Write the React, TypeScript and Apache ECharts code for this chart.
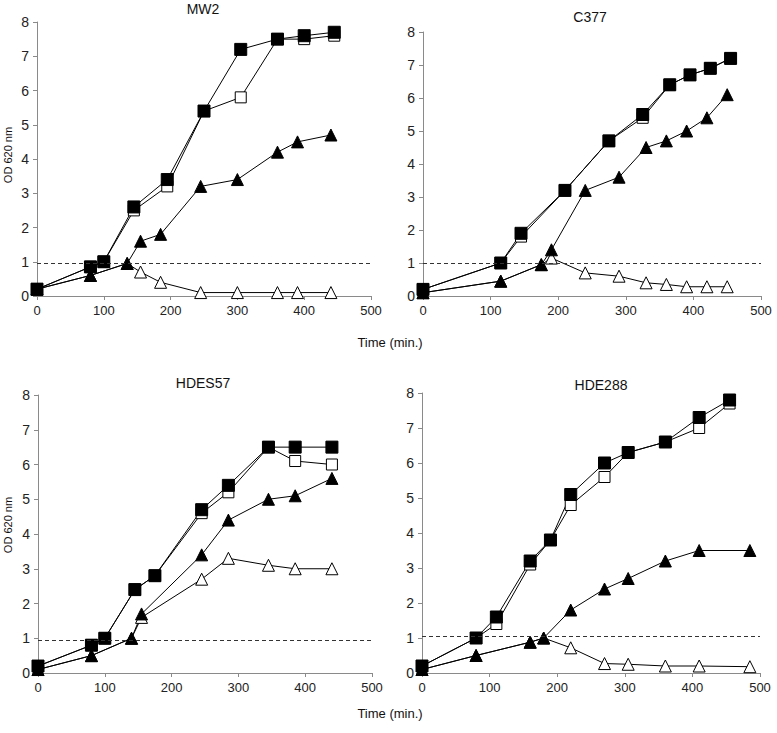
import React, { useEffect, useRef } from "react";
import * as echarts from "echarts";

// ---- Data (time in min, OD 620 nm) ----
const xTicks = [0, 100, 200, 300, 400, 500];
const yTicks = [0, 1, 2, 3, 4, 5, 6, 7, 8];

const panelTitles = ["MW2", "C377", "HDES57", "HDE288"];
const thresholds = [0.95, 1.0, 0.95, 1.05];

// MW2
const mw2SqT = [0, 80, 100, 145, 195, 250, 305, 360, 400, 445];
const mw2FilledSq = [0.2, 0.85, 1.0, 2.6, 3.4, 5.4, 7.2, 7.5, 7.6, 7.7];
const mw2OpenSq = [0.2, 0.85, 1.0, 2.5, 3.2, 5.4, 5.8, 7.5, 7.5, 7.6];
const mw2TriT = [0, 80, 135, 155, 185, 245, 300, 360, 390, 440];
const mw2FilledTri = [0.2, 0.6, 0.95, 1.6, 1.8, 3.2, 3.4, 4.2, 4.5, 4.7];
const mw2OpenTri = [0.2, 0.6, 0.95, 0.7, 0.4, 0.1, 0.1, 0.1, 0.1, 0.1];

// C377
const c377SqT = [0, 115, 145, 210, 275, 325, 365, 395, 425, 455];
const c377FilledSq = [0.2, 1.0, 1.9, 3.2, 4.7, 5.5, 6.4, 6.7, 6.9, 7.2];
const c377OpenSq = [0.2, 1.0, 1.8, 3.2, 4.7, 5.4, 6.4, 6.7, 6.9, 7.2];
const c377TriT = [0, 115, 175, 190, 240, 290, 330, 360, 390, 420, 450];
const c377FilledTri = [0.1, 0.45, 0.95, 1.4, 3.2, 3.6, 4.5, 4.7, 5.0, 5.4, 6.1];
const c377OpenTri = [0.1, 0.45, 0.95, 1.15, 0.7, 0.6, 0.4, 0.35, 0.28, 0.28, 0.28];

// HDES57
const hdes57SqT = [0, 80, 100, 145, 175, 245, 285, 345, 385, 440];
const hdes57FilledSq = [0.2, 0.8, 1.0, 2.4, 2.8, 4.7, 5.4, 6.5, 6.5, 6.5];
const hdes57OpenSq = [0.2, 0.8, 1.0, 2.4, 2.8, 4.6, 5.2, 6.5, 6.1, 6.0];
const hdes57TriT = [0, 80, 140, 155, 245, 285, 345, 385, 440];
const hdes57FilledTri = [0.1, 0.5, 1.0, 1.7, 3.4, 4.4, 5.0, 5.1, 5.6];
const hdes57OpenTri = [0.1, 0.5, 1.0, 1.6, 2.7, 3.3, 3.1, 3.0, 3.0];

// HDE288
const hde288SqT = [0, 80, 110, 160, 190, 220, 270, 305, 360, 410, 455];
const hde288FilledSq = [0.2, 1.0, 1.6, 3.2, 3.8, 5.1, 6.0, 6.3, 6.6, 7.3, 7.8];
const hde288OpenSq = [0.2, 1.0, 1.4, 3.1, 3.8, 4.8, 5.6, 6.3, 6.6, 7.0, 7.7];
const hde288TriT = [0, 80, 160, 180, 220, 270, 305, 360, 410, 485];
const hde288FilledTri = [0.1, 0.5, 0.88, 1.0, 1.8, 2.4, 2.7, 3.2, 3.5, 3.5];
const hde288OpenTri = [0.1, 0.5, 0.88, 1.0, 0.72, 0.27, 0.25, 0.2, 0.2, 0.18];

const panels = [
  { sqT: mw2SqT, fSq: mw2FilledSq, oSq: mw2OpenSq, triT: mw2TriT, fTri: mw2FilledTri, oTri: mw2OpenTri },
  { sqT: c377SqT, fSq: c377FilledSq, oSq: c377OpenSq, triT: c377TriT, fTri: c377FilledTri, oTri: c377OpenTri },
  { sqT: hdes57SqT, fSq: hdes57FilledSq, oSq: hdes57OpenSq, triT: hdes57TriT, fTri: hdes57FilledTri, oTri: hdes57OpenTri },
  { sqT: hde288SqT, fSq: hde288FilledSq, oSq: hde288OpenSq, triT: hde288TriT, fTri: hde288FilledTri, oTri: hde288OpenTri },
];

// layout (pixels)
const grids = [
  { left: 37, top: 22, width: 334, height: 274 },
  { left: 423, top: 32, width: 338, height: 264 },
  { left: 38, top: 395, width: 334, height: 278 },
  { left: 422, top: 393, width: 338, height: 280 },
];
const titlePos = [
  { x: 203, y: 2 },
  { x: 590, y: 10 },
  { x: 203, y: 376 },
  { x: 601, y: 378 },
];

const zip = (xs: number[], ys: number[]) => xs.map((x, i) => [x, ys[i]]);

const NARROW = "'Liberation Sans Narrow', 'Arial Narrow', 'Liberation Sans', Arial, sans-serif";
const SANS = "'Liberation Sans', Arial, sans-serif";

export default function App() {
  const ref = useRef<HTMLDivElement>(null);
  useEffect(() => {
    if (!ref.current) return;
    const chart = echarts.init(ref.current, undefined, { renderer: "svg" });
    const axisLine = { lineStyle: { color: "#8a8a8a", width: 1 } };
    const axisTick = { show: true, length: 4, lineStyle: { color: "#8a8a8a" } };
    const xAxis = grids.map((_, i) => ({
      type: "value",
      gridIndex: i,
      min: xTicks[0],
      max: xTicks[xTicks.length - 1],
      interval: 100,
      axisLine: { show: true, ...axisLine },
      axisTick,
      splitLine: { show: false },
      axisLabel: { color: "#222", fontFamily: NARROW, fontSize: 13, margin: 8 },
    }));
    const yAxis = grids.map((_, i) => ({
      type: "value",
      gridIndex: i,
      min: yTicks[0],
      max: yTicks[yTicks.length - 1],
      interval: 1,
      axisLine: { show: true, ...axisLine },
      axisTick,
      splitLine: { show: false },
      axisLabel: { color: "#222", fontFamily: NARROW, fontSize: 14, margin: 8 },
    }));
    const series: any[] = [];
    panels.forEach((p, i) => {
      const base = { type: "line", xAxisIndex: i, yAxisIndex: i, lineStyle: { color: "#000", width: 1 }, symbolKeepAspect: true };
      series.push({
        ...base,
        name: panelTitles[i] + " open triangle",
        data: zip(p.triT, p.oTri),
        symbol: "triangle",
        symbolSize: 12,
        itemStyle: { color: "#fff", borderColor: "#000", borderWidth: 1 },
      });
      series.push({
        ...base,
        name: panelTitles[i] + " filled triangle",
        data: zip(p.triT, p.fTri),
        symbol: "triangle",
        symbolSize: 12,
        itemStyle: { color: "#000", borderColor: "#000", borderWidth: 1 },
      });
      series.push({
        ...base,
        name: panelTitles[i] + " open square",
        data: zip(p.sqT, p.oSq),
        symbol: "rect",
        symbolSize: 11,
        itemStyle: { color: "#fff", borderColor: "#000", borderWidth: 1 },
      });
      series.push({
        ...base,
        name: panelTitles[i] + " filled square",
        data: zip(p.sqT, p.fSq),
        symbol: "rect",
        symbolSize: 12,
        itemStyle: { color: "#000", borderColor: "#000", borderWidth: 1 },
        markLine: {
          silent: true,
          symbol: ["none", "none"],
          label: { show: false },
          lineStyle: { type: [4, 3], color: "#333", width: 1 },
          data: [{ yAxis: thresholds[i] }],
        },
      });
    });
    const graphic: any[] = [];
    titlePos.forEach((t, i) => {
      graphic.push({
        type: "text",
        x: t.x,
        y: t.y,
        style: { text: panelTitles[i], fontFamily: SANS, fontSize: 14, fill: "#111", textAlign: "center", textVerticalAlign: "top" },
      });
    });
    [155, 525].forEach((y) => {
      graphic.push({
        type: "text",
        x: 8,
        y,
        rotation: Math.PI / 2,
        style: { text: "OD 620 nm", fontFamily: SANS, fontSize: 11, fill: "#111", textAlign: "center", textVerticalAlign: "middle" },
      });
    });
    [342, 713].forEach((y) => {
      graphic.push({
        type: "text",
        x: 390,
        y,
        style: { text: "Time (min.)", fontFamily: NARROW, fontSize: 13, fill: "#111", textAlign: "center", textVerticalAlign: "middle" },
      });
    });
    chart.setOption({
      animation: false,
      backgroundColor: "#fff",
      grid: grids.map((g) => ({ ...g, containLabel: false })),
      xAxis,
      yAxis,
      series,
      graphic,
    });
    return () => chart.dispose();
  }, []);
  return (
    <div
      ref={ref}
      style={{ position: "absolute", left: 0, top: 0, width: 777, height: 733 }}
    />
  );
}
